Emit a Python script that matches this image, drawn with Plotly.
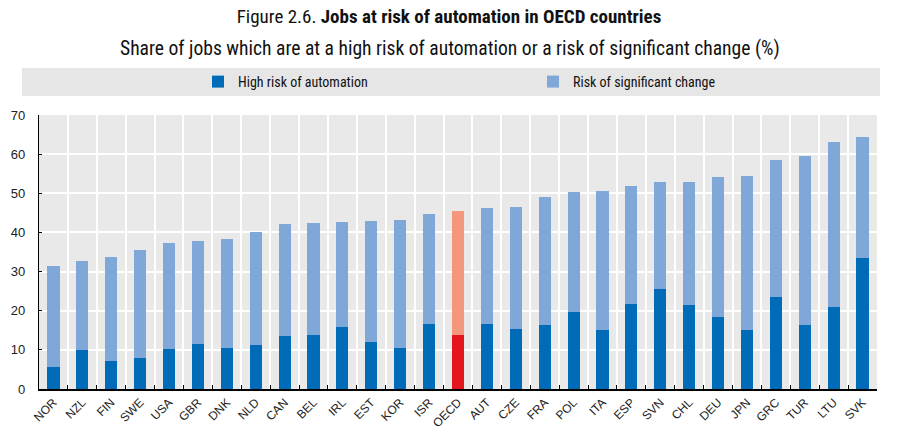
import plotly.graph_objects as go

countries = ["NOR", "NZL", "FIN", "SWE", "USA", "GBR", "DNK", "NLD", "CAN", "BEL",
             "IRL", "EST", "KOR", "ISR", "OECD", "AUT", "CZE", "FRA", "POL", "ITA",
             "ESP", "SVN", "CHL", "DEU", "JPN", "GRC", "TUR", "LTU", "SVK"]
high_risk = [5.7, 9.9, 7.2, 8.0, 10.3, 11.6, 10.6, 11.3, 13.5, 13.8,
             15.9, 12.1, 10.4, 16.6, 13.8, 16.5, 15.4, 16.3, 19.7, 15.2,
             21.7, 25.6, 21.5, 18.3, 15.0, 23.4, 16.4, 21.0, 33.5]
total_risk = [31.4, 32.7, 33.6, 35.5, 37.2, 37.7, 38.3, 40.0, 42.1, 42.5,
              42.7, 42.9, 43.2, 44.7, 45.5, 46.2, 46.6, 49.1, 50.3, 50.6,
              51.9, 52.9, 53.0, 54.1, 54.3, 58.6, 59.5, 63.0, 64.5]
sig_change = [round(t - h, 1) for t, h in zip(total_risk, high_risk)]
y_ticks = [0, 10, 20, 30, 40, 50, 60, 70]

DARK = "#006BB6"
LIGHT = "#7FA8D9"
RED = "#E2161C"
SALMON = "#F4977A"

dark_colors = [RED if c == "OECD" else DARK for c in countries]
light_colors = [SALMON if c == "OECD" else LIGHT for c in countries]

FONT = "Liberation Sans Narrow, Arial Narrow, Roboto Condensed, Liberation Sans, Arial, sans-serif"
AXFONT = "Liberation Sans, Arial, sans-serif"

fig = go.Figure()
fig.add_trace(go.Bar(x=countries, y=high_risk, name="High risk of automation",
                     marker=dict(color=dark_colors, line=dict(width=0))))
fig.add_trace(go.Bar(x=countries, y=sig_change, name="Risk of significant change",
                     marker=dict(color=light_colors, line=dict(width=0))))

L, R, T, B = 39, 25, 115, 40
W, H = 902, 429
pw = W - L - R
ph = H - T - B

def px2py(y):
    return 1 + (T - y) / ph

def px2px(x):
    return (x - L) / pw

fig.update_layout(
    width=W, height=H,
    margin=dict(l=L, r=R, t=T, b=B, pad=0, autoexpand=False),
    barmode="stack",
    bargap=0.58,
    paper_bgcolor="white",
    plot_bgcolor="#E9E9E9",
    font=dict(family=FONT, size=13, color="#222222"),
    showlegend=True,
    title=dict(
        text="Figure 2.6. <b>Jobs at risk of automation in OECD countries</b>",
        x=449 / W, xanchor="center", xref="container",
        y=1 - 16 / H, yanchor="middle", yref="container",
        font=dict(family=FONT, size=19, color="#111111"),
    ),
    legend=dict(
        orientation="h",
        x=px2px(198), xanchor="left",
        y=px2py(82), yanchor="middle",
        bgcolor="rgba(0,0,0,0)",
        entrywidth=290, entrywidthmode="pixels",
        font=dict(family=FONT, size=14, color="#111111"),
        traceorder="normal",
    ),
    shapes=[dict(type="rect", xref="paper", yref="paper",
                 x0=px2px(22), x1=px2px(880), y0=px2py(96), y1=px2py(68),
                 fillcolor="#E6E6E6", line=dict(width=0), layer="below")],
    annotations=[dict(
        text="Share of jobs which are at a high risk of automation or a risk of significant change (%)",
        xref="paper", yref="paper", x=px2px(450), y=px2py(49),
        xanchor="center", yanchor="middle", showarrow=False,
        font=dict(family=FONT, size=19.6, color="#111111"),
    )],
)

fig.update_xaxes(
    type="category",
    automargin=False,
    tickson="boundaries",
    showgrid=True, gridcolor="white", gridwidth=1.5,
    showline=True, linecolor="black", linewidth=1.5,
    ticks="inside", ticklen=4, tickcolor="black", tickwidth=1.2,
    tickangle=-45,
    tickfont=dict(family=AXFONT, size=12, color="#222222"),
)
fig.update_yaxes(
    automargin=False,
    range=[0, 70], tickvals=y_ticks,
    showgrid=True, gridcolor="white", gridwidth=1.5,
    showline=True, linecolor="black", linewidth=1.2,
    ticks="inside", ticklen=3, tickcolor="black",
    ticklabelstandoff=10,
    zeroline=False,
    tickfont=dict(family=AXFONT, size=13, color="#222222"),
)

fig.write_html("out.html")
